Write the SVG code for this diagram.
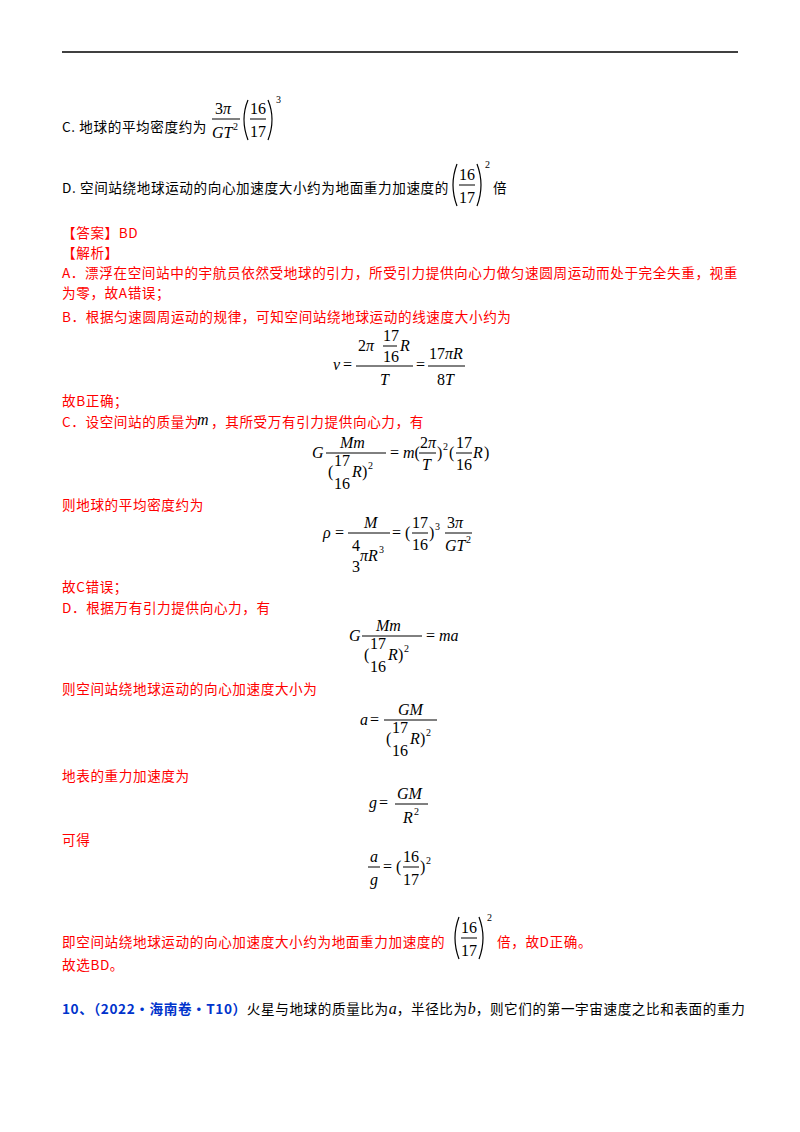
<svg xmlns="http://www.w3.org/2000/svg" width="800" height="1132" viewBox="0 0 800 1132">
<style>
.t{font-family:"Noto Sans CJK SC",sans-serif;font-size:13.6px;letter-spacing:0.6px;fill:#000}
.r{fill:#f00}
.m{font-family:"Liberation Serif",serif;font-size:16px;font-style:italic;fill:#000;letter-spacing:0}
.n{font-family:"Liberation Serif",serif;font-size:16px;fill:#000}
.s{font-family:"Liberation Serif",serif;font-size:10px;fill:#000}
.b{stroke:#000;stroke-width:1;fill:none}
.p{stroke:#000;stroke-width:1.2;fill:none}
</style>
<rect width="800" height="1132" fill="#fff"/>
<line x1="62" y1="52" x2="738" y2="52" stroke="#000" stroke-width="1.5"/>

<g id="optC">
<text class="t" x="62" y="132">C.  地球的平均密度约为</text>
<text class="n" x="215" y="114">3<tspan class="m">π</tspan></text>
<line class="b" x1="212" y1="119" x2="240" y2="119"/>
<text class="m" x="212" y="138">GT</text><text class="s" x="233" y="130">2</text>
<path class="p" d="M248,100 Q240,119 248,140"/><path class="p" d="M268,100 Q276,119 268,140"/>
<text class="n" x="250" y="114">16</text><line class="b" x1="250" y1="119" x2="266" y2="119"/><text class="n" x="250" y="137">17</text>
<text class="s" x="276" y="103">3</text>
</g>

<g id="optD">
<text class="t" x="62" y="193">D.  空间站绕地球运动的向心加速度大小约为地面重力加速度的</text>
<path class="p" d="M457,164 Q449,185 457,206"/><path class="p" d="M477,164 Q485,185 477,206"/>
<text class="n" x="459" y="180">16</text><line class="b" x1="459" y1="185" x2="475" y2="185"/><text class="n" x="459" y="203">17</text>
<text class="s" x="485" y="168">2</text>
<text class="t" x="493" y="193">倍</text>
</g>

<text class="t r" x="62" y="238">【答案】BD</text>
<text class="t r" x="62" y="258">【解析】</text>
<text class="t r" x="62" y="278">A．漂浮在空间站中的宇航员依然受地球的引力，所受引力提供向心力做匀速圆周运动而处于完全失重，视重</text>
<text class="t r" x="62" y="298">为零，故A错误；</text>
<text class="t r" x="62" y="322">B．根据匀速圆周运动的规律，可知空间站绕地球运动的线速度大小约为</text>

<text class="m" x="333" y="370">v</text><text class="n" x="343" y="370">=</text>
<text class="n" x="358" y="351">2<tspan class="m">π</tspan></text>
<text class="n" x="383" y="341">17</text><line class="b" x1="383" y1="346" x2="397" y2="346"/><text class="n" x="383" y="362">16</text>
<text class="m" x="400" y="351">R</text>
<line class="b" x1="356" y1="366" x2="413" y2="366"/>
<text class="m" x="380" y="385">T</text>
<text class="n" x="416" y="370">=</text>
<text class="n" x="429" y="359">17<tspan class="m">πR</tspan></text>
<line class="b" x1="428" y1="366" x2="465" y2="366"/>
<text class="n" x="437" y="385">8<tspan class="m">T</tspan></text>

<text class="t r" x="62" y="406">故B正确；</text>
<text class="t r" x="62" y="427">C．设空间站的质量为</text><text class="m" x="197" y="425">m</text><text class="t r" x="211" y="427">，其所受万有引力提供向心力，有</text>

<text class="m" x="312" y="458">G</text>
<text class="m" x="340" y="448">Mm</text>
<line class="b" x1="326" y1="453" x2="386" y2="453"/>
<text class="n" x="328" y="477">(</text><text class="n" x="334" y="466">17</text><text class="n" x="334" y="489">16</text>
<text class="m" x="352" y="477">R</text><text class="n" x="362" y="477">)</text><text class="s" x="368" y="469">2</text>
<text class="n" x="390" y="458">= <tspan class="m">m</tspan>(</text>
<text class="n" x="420" y="448">2<tspan class="m">π</tspan></text><line class="b" x1="419" y1="453" x2="436" y2="453"/><text class="m" x="422" y="470">T</text>
<text class="n" x="437" y="458">)</text><text class="s" x="443" y="450">2</text>
<text class="n" x="449" y="458">(</text>
<text class="n" x="456" y="448">17</text><line class="b" x1="456" y1="453" x2="472" y2="453"/><text class="n" x="456" y="470">16</text>
<text class="m" x="473" y="458">R</text><text class="n" x="484" y="458">)</text>

<text class="t r" x="62" y="510">则地球的平均密度约为</text>

<text class="m" x="323" y="538">ρ</text><text class="n" x="335" y="538">=</text>
<text class="m" x="364" y="528">M</text>
<line class="b" x1="348" y1="533" x2="390" y2="533"/>
<text class="n" x="352" y="551">4</text><text class="n" x="352" y="572">3</text>
<text class="m" x="360" y="561">πR</text><text class="s" x="379" y="553">3</text>
<text class="n" x="392" y="538">= (</text>
<text class="n" x="412" y="528">17</text><line class="b" x1="412" y1="533" x2="428" y2="533"/><text class="n" x="412" y="550">16</text>
<text class="n" x="429" y="538">)</text><text class="s" x="435" y="530">3</text>
<text class="n" x="447" y="528">3<tspan class="m">π</tspan></text><line class="b" x1="445" y1="533" x2="472" y2="533"/>
<text class="m" x="445" y="551">GT</text><text class="s" x="466" y="543">2</text>

<text class="t r" x="62" y="592">故C错误；</text>
<text class="t r" x="62" y="613">D．根据万有引力提供向心力，有</text>

<text class="m" x="349" y="641">G</text>
<text class="m" x="376" y="631">Mm</text>
<line class="b" x1="362" y1="636" x2="422" y2="636"/>
<text class="n" x="364" y="660">(</text><text class="n" x="370" y="649">17</text><text class="n" x="370" y="672">16</text>
<text class="m" x="388" y="660">R</text><text class="n" x="398" y="660">)</text><text class="s" x="404" y="652">2</text>
<text class="n" x="426" y="641">= <tspan class="m">ma</tspan></text>

<text class="t r" x="62" y="694">则空间站绕地球运动的向心加速度大小为</text>

<text class="m" x="360" y="725">a</text><text class="n" x="370" y="725">=</text>
<text class="m" x="398" y="715">GM</text>
<line class="b" x1="384" y1="720" x2="437" y2="720"/>
<text class="n" x="386" y="744">(</text><text class="n" x="392" y="733">17</text><text class="n" x="392" y="756">16</text>
<text class="m" x="410" y="744">R</text><text class="n" x="420" y="744">)</text><text class="s" x="426" y="736">2</text>

<text class="t r" x="62" y="781">地表的重力加速度为</text>

<text class="m" x="369" y="808">g</text><text class="n" x="379" y="808">=</text>
<text class="m" x="397" y="799">GM</text>
<line class="b" x1="395" y1="804" x2="428" y2="804"/>
<text class="m" x="403" y="823">R</text><text class="s" x="414" y="815">2</text>

<text class="t r" x="62" y="845">可得</text>

<text class="m" x="370" y="862">a</text><line class="b" x1="368" y1="867" x2="380" y2="867"/><text class="m" x="370" y="885">g</text>
<text class="n" x="383" y="872">= (</text>
<text class="n" x="403" y="862">16</text><line class="b" x1="403" y1="867" x2="419" y2="867"/><text class="n" x="403" y="885">17</text>
<text class="n" x="420" y="872">)</text><text class="s" x="426" y="864">2</text>

<text class="t r" x="62" y="947">即空间站绕地球运动的向心加速度大小约为地面重力加速度的</text>
<path class="p" d="M459,917 Q451,938 459,959"/><path class="p" d="M479,917 Q487,938 479,959"/>
<text class="n" x="461" y="933">16</text><line class="b" x1="461" y1="938" x2="477" y2="938"/><text class="n" x="461" y="956">17</text>
<text class="s" x="487" y="921">2</text>
<text class="t r" x="497" y="947">倍，故D正确。</text>

<text class="t r" x="62" y="970">故选BD。</text>
<text class="t" x="62" y="1014"><tspan fill="#0033cc" font-weight="bold">10、（2022·海南卷·T10）</tspan>火星与地球的质量比为<tspan class="m" font-size="14">a</tspan>，半径比为<tspan class="m" font-size="14">b</tspan>，则它们的第一宇宙速度之比和表面的重力</text>
</svg>
